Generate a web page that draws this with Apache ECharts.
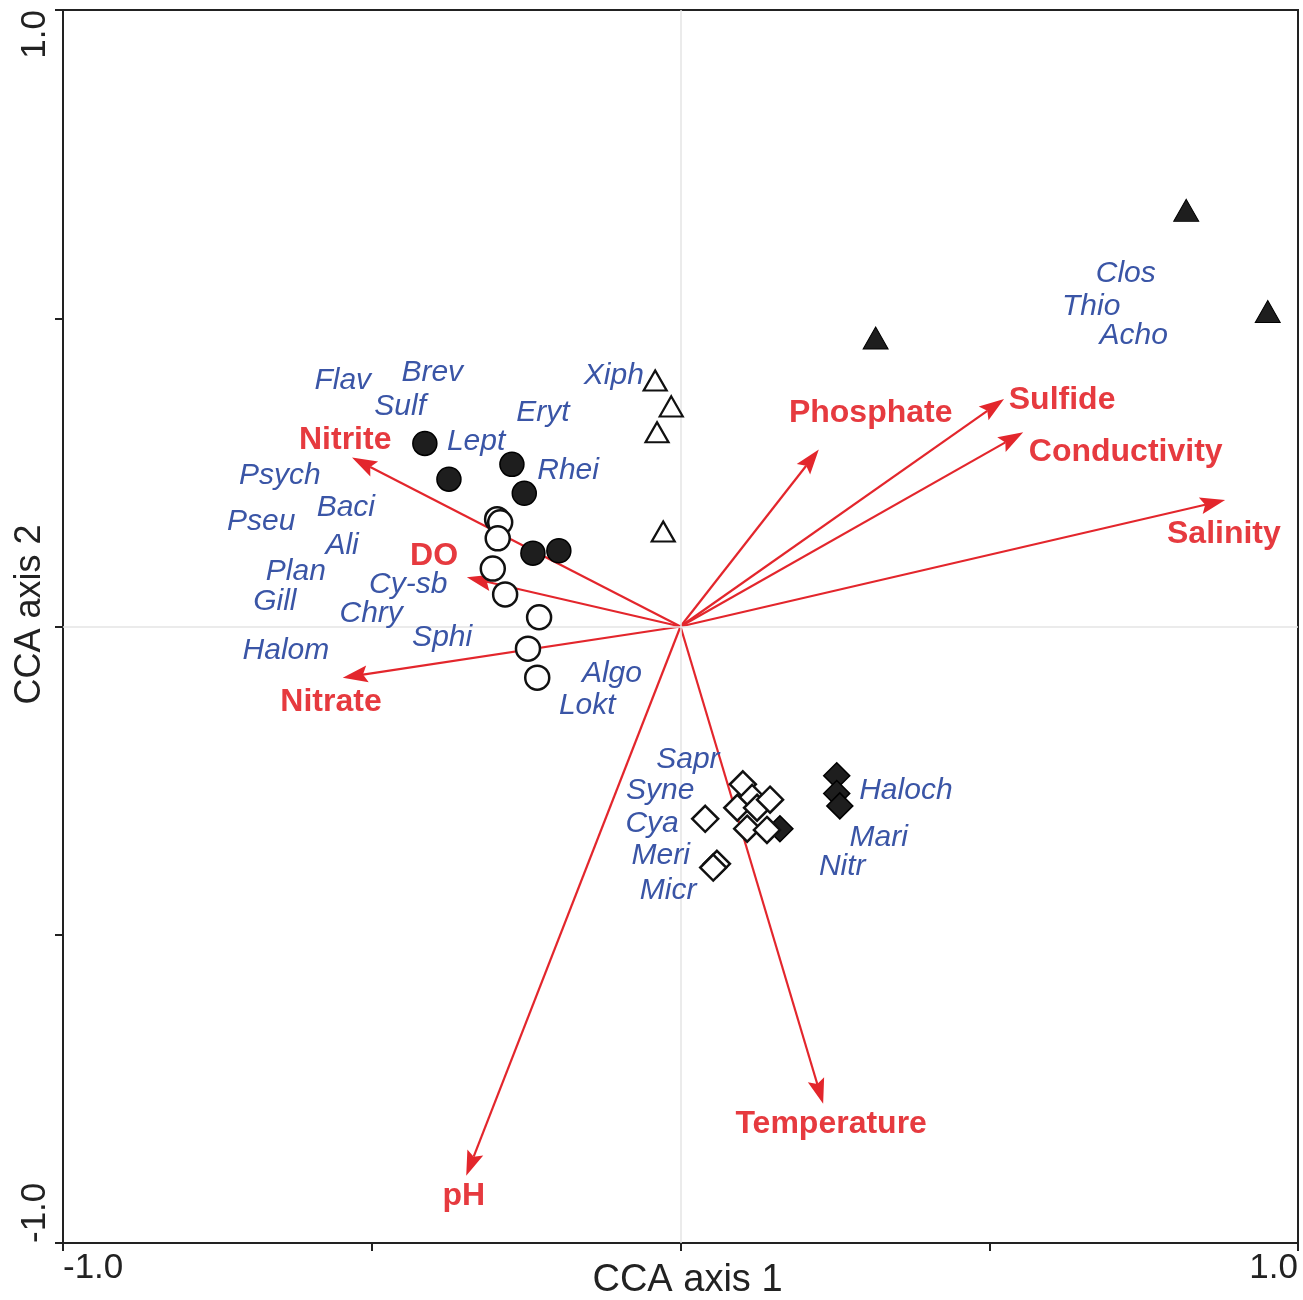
<!DOCTYPE html>
<html>
<head>
<meta charset="utf-8">
<script src="https://cdn.jsdelivr.net/npm/echarts@6/dist/echarts.min.js"></script>
<style>html,body{margin:0;padding:0;background:#fff}#c{width:1303px;height:1300px}</style>
</head>
<body>
<div id="c"></div>
<script>
// ---- sample scores (CCA axis 1, CCA axis 2) ----
const openTriX = [-0.041, -0.015, -0.038, -0.028];
const openTriY = [0.399, 0.357, 0.315, 0.154];
const fillTriX = [0.819, 0.951, 0.316];
const fillTriY = [0.675, 0.511, 0.468];
const fillCircX = [-0.414, -0.375, -0.273, -0.253, -0.239, -0.197];
const fillCircY = [0.297, 0.239, 0.263, 0.216, 0.119, 0.123];
const openCircX = [-0.297, -0.292, -0.296, -0.304, -0.284, -0.229, -0.247, -0.232];
const openCircY = [0.174, 0.169, 0.143, 0.094, 0.052, 0.015, -0.036, -0.083];
const openDiaX = [0.101, 0.116, 0.092, 0.124, 0.145, 0.108, 0.140, 0.040, 0.059, 0.053];
const openDiaY = [-0.256, -0.278, -0.294, -0.294, -0.281, -0.328, -0.330, -0.312, -0.385, -0.391];
const fillDiaX = [0.161, 0.253, 0.253, 0.258];
const fillDiaY = [-0.328, -0.242, -0.271, -0.291];

// ---- environmental vectors ----
const envNames = ['Nitrite', 'DO', 'Nitrate', 'pH', 'Temperature', 'Phosphate', 'Sulfide', 'Conductivity', 'Salinity'];
const envX = [-0.532, -0.346, -0.547, -0.347, 0.231, 0.224, 0.524, 0.555, 0.882];
const envY = [0.274, 0.080, -0.083, -0.891, -0.774, 0.287, 0.369, 0.315, 0.205];
const envLabelX = [-0.543, -0.399, -0.566, -0.351, 0.244, 0.308, 0.618, 0.721, 0.880];
const envLabelY = [0.302, 0.114, -0.123, -0.924, -0.808, 0.346, 0.367, 0.282, 0.149];

// ---- taxa labels ----
const taxaNames = ['Flav','Brev','Sulf','Xiph','Eryt','Lept','Rhei','Psych','Baci','Pseu','Ali','Plan','Cy-sb','Gill','Chry','Sphi','Halom','Algo','Lokt','Sapr','Syne','Cya','Meri','Micr','Haloch','Mari','Nitr','Clos','Thio','Acho'];
const taxaX = [-0.547,-0.402,-0.454,-0.108,-0.223,-0.331,-0.182,-0.649,-0.542,-0.679,-0.548,-0.623,-0.441,-0.657,-0.501,-0.386,-0.639,-0.111,-0.151,0.012,-0.033,-0.046,-0.032,-0.020,0.365,0.321,0.262,0.721,0.665,0.734];
const taxaY = [0.398,0.412,0.357,0.407,0.347,0.300,0.253,0.245,0.192,0.170,0.131,0.089,0.068,0.041,0.021,-0.018,-0.039,-0.076,-0.128,-0.216,-0.266,-0.320,-0.372,-0.429,-0.266,-0.343,-0.390,0.573,0.518,0.472];

// ---- axis ticks ----
const axisMin = -1.0, axisMax = 1.0, tickStep = 0.5;
const endTickLabels = ['-1.0', '1.0'];

const zip = (a, b) => a.map((v, i) => [v, b[i]]);
const FONT = '"Liberation Sans", Arial, Helvetica, sans-serif';
const RED = '#e3262c';
const REDTXT = '#e63a3f';
const BLUE = '#3a55a6';

function tickFmt(v) {
  if (Math.abs(v - axisMin) < 1e-9) return endTickLabels[0];
  if (Math.abs(v - axisMax) < 1e-9) return endTickLabels[1];
  return '';
}

const chart = echarts.init(document.getElementById('c'), null, {renderer: 'canvas'});

const axisCommon = {
  type: 'value', min: axisMin, max: axisMax, interval: tickStep,
  axisLine: {show: true, onZero: false, lineStyle: {color: '#222', width: 2}},
  axisTick: {show: true, inside: false, length: 8, lineStyle: {color: '#222', width: 2}},
  splitLine: {show: false},
  nameLocation: 'middle',
  nameMoveOverlap: false
};

const markerBase = {type: 'scatter', z: 5, emphasis: {disabled: true}, silent: true};

const option = {
  animation: false,
  backgroundColor: '#fff',
  grid: {left: 63, right: 5, top: 10, bottom: 57, containLabel: false, outerBoundsMode: 'none',
    show: true, borderColor: '#222', borderWidth: 2, backgroundColor: 'transparent'},
  xAxis: Object.assign({}, axisCommon, {
    name: 'CCA axis 1', nameGap: 19,
    nameTextStyle: {fontFamily: FONT, fontSize: 38, color: '#222', padding: [0, 0, 0, 14]},
    axisLabel: {formatter: tickFmt, fontFamily: FONT, fontSize: 35, color: '#222', margin: 8,
      alignMinLabel: 'left', alignMaxLabel: 'right', showMinLabel: true, showMaxLabel: true}
  }),
  yAxis: Object.assign({}, axisCommon, {
    name: 'CCA axis 2', nameGap: 15,
    nameTextStyle: {fontFamily: FONT, fontSize: 36, color: '#222', padding: [0, 0, 0, 24]},
    axisLabel: {formatter: tickFmt, fontFamily: FONT, fontSize: 35, color: '#222', margin: 10, rotate: 90,
      alignMinLabel: 'left', alignMaxLabel: 'right', showMinLabel: true, showMaxLabel: true}
  }),
  series: [
    {
      type: 'line', data: [], silent: true, z: 1,
      markLine: {silent: true, symbol: 'none', label: {show: false},
        lineStyle: {color: '#e4e4e4', width: 1.5, type: 'solid'},
        data: [{xAxis: 0}, {yAxis: 0}]}
    },
    {
      type: 'custom', z: 3, silent: true,
      data: zip(envX, envY),
      renderItem: function (params, api) {
        const p0 = api.coord([0, 0]);
        const p1 = api.coord([api.value(0), api.value(1)]);
        const dx = p1[0] - p0[0], dy = p1[1] - p0[1];
        const len = Math.sqrt(dx * dx + dy * dy);
        const ux = dx / len, uy = dy / len, nx = -uy, ny = ux;
        const L = 25, W = 8.5;
        const bx = p1[0] - ux * L, by = p1[1] - uy * L;
        const cx = p1[0] - ux * L * 0.82, cy = p1[1] - uy * L * 0.82;
        return {
          type: 'group',
          children: [
            {type: 'line', shape: {x1: p0[0], y1: p0[1], x2: cx, y2: cy}, style: {stroke: RED, lineWidth: 2.2}},
            {type: 'polygon', shape: {points: [[p1[0], p1[1]], [bx + nx * W, by + ny * W], [cx, cy], [bx - nx * W, by - ny * W]]}, style: {fill: RED}}
          ]
        };
      }
    },
    Object.assign({}, markerBase, {data: zip(fillDiaX, fillDiaY), symbol: 'diamond', symbolSize: [26, 26],
      itemStyle: {color: '#1e1e1e', borderColor: '#000', borderWidth: 1.5, opacity: 1}}),
    Object.assign({}, markerBase, {data: zip(openDiaX, openDiaY), symbol: 'diamond', symbolSize: [26, 26],
      itemStyle: {color: '#fff', borderColor: '#111', borderWidth: 2.5, opacity: 1}}),
    Object.assign({}, markerBase, {data: zip(openTriX, openTriY), symbol: 'triangle', symbolSize: [23, 20],
      itemStyle: {color: '#fff', borderColor: '#111', borderWidth: 2.2, opacity: 1}}),
    Object.assign({}, markerBase, {data: zip(fillTriX, fillTriY), symbol: 'triangle', symbolSize: [25, 22],
      itemStyle: {color: '#1e1e1e', borderColor: '#000', borderWidth: 1, opacity: 1}}),
    Object.assign({}, markerBase, {data: zip(fillCircX, fillCircY), symbol: 'circle', symbolSize: 24,
      itemStyle: {color: '#1e1e1e', borderColor: '#000', borderWidth: 1.5, opacity: 1}}),
    Object.assign({}, markerBase, {data: zip(openCircX, openCircY), symbol: 'circle', symbolSize: 24,
      itemStyle: {color: '#fff', borderColor: '#111', borderWidth: 2.5, opacity: 1}}),
    {
      type: 'scatter', z: 6, silent: true, symbolSize: 1,
      itemStyle: {color: 'rgba(0,0,0,0)', opacity: 1},
      data: taxaNames.map((n, i) => [taxaX[i], taxaY[i], n]),
      label: {show: true, position: 'inside', formatter: p => p.value[2], opacity: 1,
        fontFamily: FONT, fontSize: 30, fontStyle: 'italic', color: BLUE}
    },
    {
      type: 'scatter', z: 6, silent: true, symbolSize: 1,
      itemStyle: {color: 'rgba(0,0,0,0)', opacity: 1},
      data: envNames.map((n, i) => [envLabelX[i], envLabelY[i], n]),
      label: {show: true, position: 'inside', formatter: p => p.value[2], opacity: 1,
        fontFamily: FONT, fontSize: 32, fontWeight: 'bold', color: REDTXT}
    }
  ]
};
chart.setOption(option);
</script>
</body>
</html>
